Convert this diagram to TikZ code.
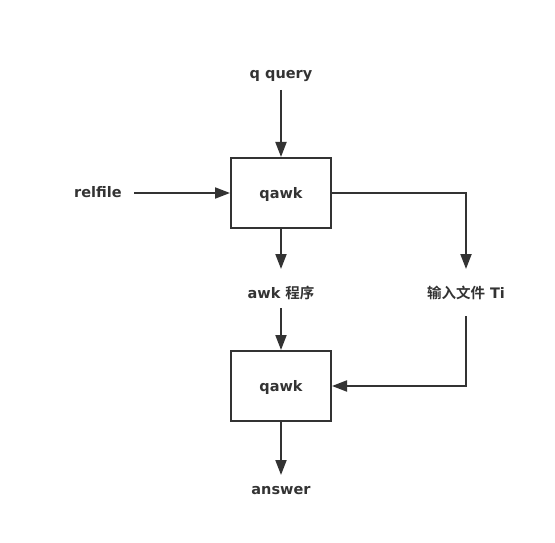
\documentclass[tikz,border=0pt]{standalone}
\usepackage{fontspec}
\setmainfont{DejaVu Sans}
\newfontfamily\cjk{Noto Sans CJK SC}[BoldFont={* Bold}]
\usetikzlibrary{arrows.meta}
\definecolor{ink}{HTML}{333333}
\begin{document}
\begin{tikzpicture}[x=1pt,y=-1pt,
  box/.style={draw=ink,line width=2pt,minimum width=100pt,minimum height=70pt,inner sep=0pt,font=\fontsize{14.5pt}{17pt}\selectfont\bfseries,text=ink,text height=10pt,text depth=0pt},
  lbl/.style={inner sep=0pt,font=\fontsize{14.5pt}{17pt}\selectfont\bfseries,text=ink,text height=10pt,text depth=0pt},
  conn/.style={draw=ink,line width=2pt,-{Triangle[length=15pt,width=11pt]}}]
\useasboundingbox (0,0) rectangle (555,543);
\node[box] (b1) at (281,193) {qawk};
\node[box] (b2) at (281,386) {qawk};
\node[lbl] (q) at (281,74) {q query};
\node[lbl] (rel) at (98,192) {relfile};
\node[lbl] (awk) at (281,293) {awk {\cjk\bfseries 程序}};
\node[lbl] (in) at (466,293) {{\cjk\bfseries 输入文件} Ti};
\node[lbl] (ans) at (281,489) {answer};
\coordinate (qs) at (281,90);
\coordinate (rr) at (134,193);
\coordinate (a1) at (281,269);
\coordinate (a2) at (281,308);
\coordinate (i1) at (466,269);
\coordinate (i2) at (466,316);
\coordinate (an) at (281,475);
\draw[conn] (qs) -- (b1.north);
\draw[conn] (rr) -- (b1.west);
\draw[conn] (b1.south) -- (a1);
\draw[conn] (a2) -- (b2.north);
\draw[conn] (b1.east) -| (i1);
\draw[conn] (i2) |- (b2.east);
\draw[conn] (b2.south) -- (an);
\end{tikzpicture}
\end{document}
